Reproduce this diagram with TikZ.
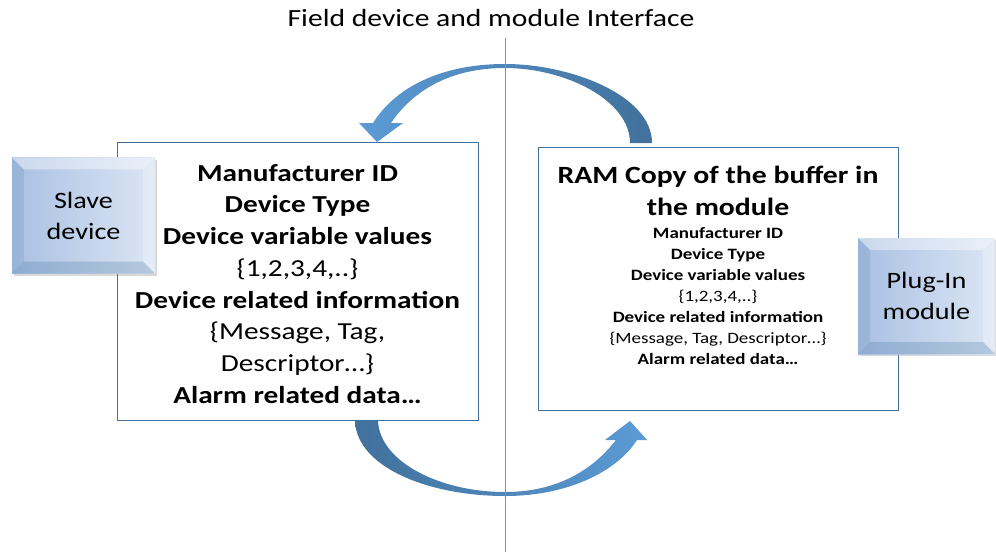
\documentclass[tikz,border=0pt]{standalone}
\usepackage{fontspec}
\setmainfont{Carlito}[FakeStretch=1.2]
\usetikzlibrary{calc,shadows,positioning}

\definecolor{lineblue}{HTML}{5B9BD5}
\definecolor{edgeblue}{HTML}{41719C}
\definecolor{facedark}{HTML}{A9C0E3}
\definecolor{facelight}{HTML}{DCE6F4}

\tikzset{
  infobox/.style={draw=edgeblue, line width=0.8pt, fill=white, inner sep=0pt},
  bevelbox/.style={inner sep=0pt, left color=facedark, right color=facelight,
    drop shadow={shadow xshift=2pt, shadow yshift=-2pt, opacity=0.3},
    align=center, font=\fontsize{23.5}{31}\selectfont},
  bigtext/.style={align=center, inner sep=0pt, font=\fontsize{24.4}{31.7}\selectfont},
  smalltext/.style={align=center, inner sep=0pt, font=\bfseries\fontsize{15.8}{21}\selectfont},
}

\begin{document}
\begin{tikzpicture}[x=1pt,y=-1pt]
  \useasboundingbox (0,0) rectangle (996,552);

  %% Title
  \node[font=\fontsize{24.7}{28}\selectfont] (title) at (491,18) {Field device and module Interface};

  %% The two buffers
  \node[infobox, minimum width=361, minimum height=278] (slavebuf) at (297.5,281) {};
  \node[infobox, minimum width=360, minimum height=263] (rambuf) at (718,278.5) {};

  \node[bigtext, anchor=north] (slavetext) at ($(slavebuf.north)+(0,22.5)$)
    {\textbf{Manufacturer ID}\\ \textbf{Device Type}\\ \textbf{Device variable values}\\
     \{1,2,3,4,..\}\\ \textbf{Device related information}\\ \{Message, Tag,\\
     Descriptor…\}\\ \textbf{Alarm related data…}};

  \node[bigtext, font=\bfseries\fontsize{24.8}{32}\selectfont, anchor=north] (ramhead)
    at ($(rambuf.north)+(0,19)$) {RAM Copy of the buffer in\\ the module};
  \node[smalltext, below=12pt of ramhead] (ramtext)
    {Manufacturer ID\\ Device Type\\ Device variable values\\ \mdseries\{1,2,3,4,..\}\\
     Device related information\\ \mdseries\{Message, Tag, Descriptor…\}\\ Alarm related data…};

  %% Bevelled boxes
  \node[bevelbox, minimum width=143, minimum height=116] (slave) at (83.5,215.5) {Slave\\device};
  \node[bevelbox, minimum width=137, minimum height=116] (plugin) at (926.5,296) {Plug-In\\module};
  \foreach \b in {slave,plugin}
  {
    \fill[white, opacity=0.4] (\b.north west) -- (\b.north east) -- ($(\b.north east)+(-12,12)$) -- ($(\b.north west)+(12,12)$) -- cycle;
    \fill[edgeblue, opacity=0.15] (\b.north west) -- ($(\b.north west)+(12,12)$) -- ($(\b.south west)+(12,-12)$) -- (\b.south west) -- cycle;
    \fill[edgeblue, opacity=0.25] (\b.south west) -- ($(\b.south west)+(12,-12)$) -- ($(\b.south east)+(-12,-12)$) -- (\b.south east) -- cycle;
    \fill[white, opacity=0.25] (\b.south east) -- ($(\b.south east)+(-12,-12)$) -- ($(\b.north east)+(-12,12)$) -- (\b.north east) -- cycle;
  }

  %% Curved block arrows
  \path[left color=lineblue, right color=edgeblue]
    (652,143) .. controls (652,95) and (570,64) .. (505,64)
    .. controls (440,64) and (395,88) .. (373,123) -- (359,123) -- (377,142) -- (403,123) -- (391,123)
    .. controls (410,95) and (445,68) .. (505,68)
    .. controls (565,68) and (630,100) .. (630,143) -- cycle;
  \path[left color=edgeblue, right color=lineblue]
    (355,421) .. controls (357,468) and (430,496) .. (505,496)
    .. controls (570,496) and (618,470) .. (637,440) -- (647,440) -- (630,421) -- (605,440) -- (616,440)
    .. controls (598,463) and (565,492) .. (505,492)
    .. controls (440,492) and (380,462) .. (378,421) -- cycle;

  %% Dividing line
  \coordinate (divtop) at (505,38);
  \coordinate (divbot) at (505,552);
  \draw[lineblue, line width=0.8pt] (divtop) -- (divbot);
\end{tikzpicture}
\end{document}
